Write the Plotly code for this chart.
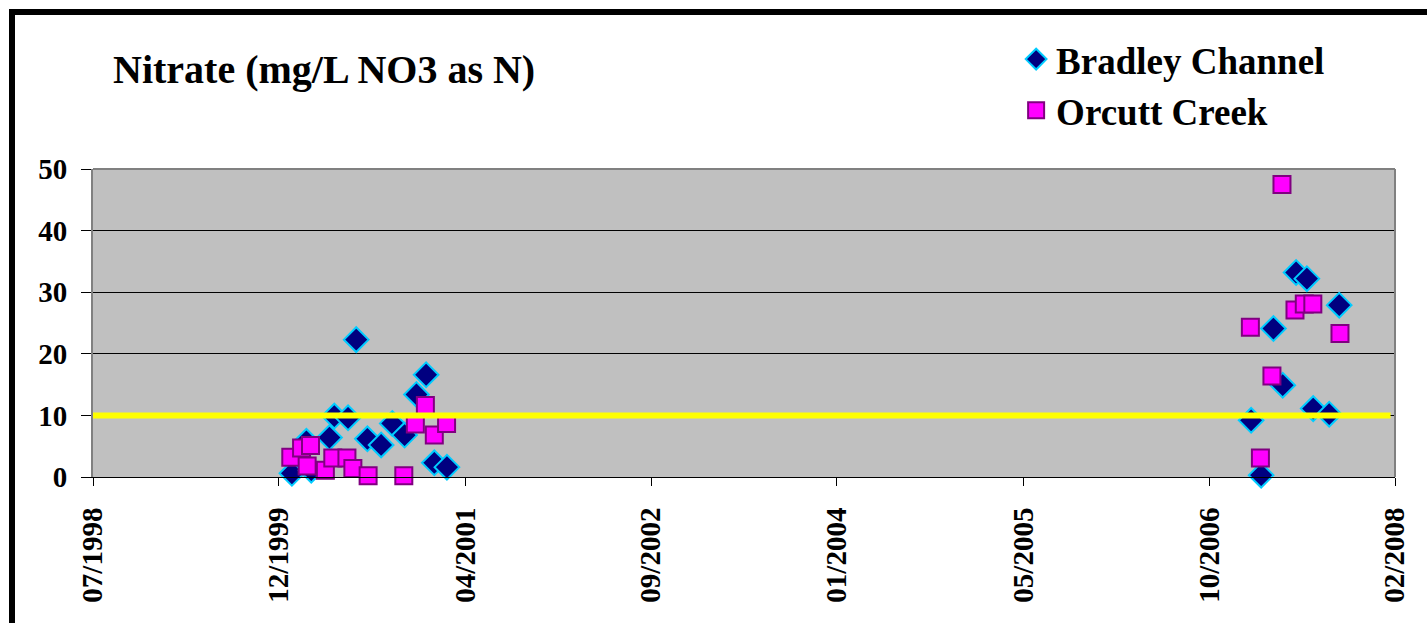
import plotly.graph_objects as go

# Nitrate sampling results (mg/L NO3 as N)
bradley_dates = [
    "2000-01-10", "2000-02-18", "2000-03-02", "2000-04-20", "2000-05-03",
    "2000-06-09", "2000-07-01", "2000-07-31", "2000-09-06", "2000-10-06",
    "2000-11-08", "2000-12-10", "2001-01-05", "2001-01-27", "2001-03-02",
    "2007-02-02", "2007-03-01", "2007-04-03", "2007-04-28", "2007-06-03",
    "2007-07-02", "2007-07-19", "2007-08-31", "2007-09-27",
]
bradley_values = [
    0.6, 5.8, 1.1, 6.4, 9.9,
    9.6, 22.3, 6.2, 5.2, 8.7,
    6.8, 13.4, 16.6, 2.3, 1.6,
    9.2, 0.3, 24.1, 14.9, 33.2,
    32.2, 11.1, 10.2, 27.9,
]

orcutt_dates = [
    "2000-01-07", "2000-02-05", "2000-02-20", "2000-02-29", "2000-04-09",
    "2000-04-29", "2000-06-06", "2000-06-22", "2000-08-02", "2000-11-06",
    "2000-12-07", "2001-01-03", "2001-01-27", "2001-03-01",
    "2007-01-31", "2007-02-27", "2007-03-30", "2007-04-26", "2007-05-31",
    "2007-06-25", "2007-07-18", "2007-09-29",
]
orcutt_values = [
    3.2, 4.7, 1.8, 5.1, 1.1,
    3.1, 3.1, 1.4, 0.2, 0.2,
    8.6, 11.6, 6.8, 8.7,
    24.3, 3.1, 16.4, 47.5, 27.1,
    28.1, 28.1, 23.3,
]

# 10 mg/L drinking-water standard
limit_dates = ["1998-07-24", "2008-02-12"]
limit_values = [10, 10]

x_range = ["1998-07-24", "2008-02-24"]
tick_dates = ["1998-07-24", "1999-12-06", "2001-04-20", "2002-09-02",
              "2004-01-15", "2005-05-30", "2006-10-12", "2008-02-24"]
tick_labels = ["07/1998", "12/1999", "04/2001", "09/2002",
               "01/2004", "05/2005", "10/2006", "02/2008"]

FONT = "Liberation Serif"

fig = go.Figure()

fig.add_trace(go.Scatter(
    x=bradley_dates, y=bradley_values, mode="markers", name="Bradley Channel",
    cliponaxis=False,
    marker=dict(symbol="diamond", size=19, color="#000080",
                line=dict(color="#00CCFF", width=2)),
))
fig.add_trace(go.Scatter(
    x=orcutt_dates, y=orcutt_values, mode="markers", name="Orcutt Creek",
    cliponaxis=False,
    marker=dict(symbol="square", size=17, color="#FF00FF",
                line=dict(color="#800080", width=2)),
))
fig.add_trace(go.Scatter(
    x=limit_dates, y=limit_values, mode="lines", showlegend=False,
    line=dict(color="#FFFF00", width=6), hoverinfo="skip",
))

fig.update_layout(
    width=1427, height=623,
    margin=dict(l=93, r=32, t=169, b=146, autoexpand=False),
    paper_bgcolor="white",
    plot_bgcolor="#C0C0C0",
    font=dict(family=FONT, color="black"),
    title=dict(
        text="Nitrate (mg/L NO3 as N)",
        font=dict(family=FONT, size=40, weight="bold", color="black"),
        x=113 / 1427, xanchor="left", xref="container",
        y=1 - 69 / 623, yanchor="middle", yref="container",
    ),
    legend=dict(
        x=0.709, xanchor="left", y=1.456, yanchor="top",
        font=dict(family=FONT, size=37, weight="bold", color="black"),
        bgcolor="rgba(0,0,0,0)", borderwidth=0,
        itemsizing="trace",
    ),
    showlegend=True,
)

fig.update_xaxes(
    type="date", range=x_range,
    tickmode="array", tickvals=tick_dates, ticktext=tick_labels,
    tickangle=-90,
    tickfont=dict(family=FONT, size=29, weight="bold", color="black"),
    ticks="outside", ticklen=8, tickcolor="black", tickwidth=1,
    ticklabelstandoff=10,
    showgrid=False, zeroline=False,
    showline=True, linecolor="black", linewidth=1,
    automargin=False,
)
fig.update_yaxes(
    range=[0, 50], tickmode="linear", tick0=0, dtick=10,
    tickfont=dict(family=FONT, size=29, weight="bold", color="black"),
    ticks="outside", ticklen=10, tickcolor="black", tickwidth=1,
    ticklabelstandoff=8,
    showgrid=True, gridcolor="black", gridwidth=1,
    zeroline=False,
    showline=True, linecolor="#808080", linewidth=2,
    automargin=False,
)

# grey plot-area border on the top and right sides
fig.add_shape(type="line", xref="paper", yref="paper", x0=0, x1=1, y0=1, y1=1,
              line=dict(color="#808080", width=2), layer="above")
fig.add_shape(type="line", xref="paper", yref="paper", x0=1, x1=1, y0=0, y1=1,
              line=dict(color="#808080", width=2), layer="above")

# heavy black frame around the chart
fig.add_shape(type="rect", xref="paper", yref="paper",
              x0=-81 / 1302, x1=1.05, y0=(477 - 12) / 308, y1=-0.6,
              line=dict(color="black", width=6), fillcolor="rgba(0,0,0,0)",
              layer="above")

fig.write_html("out.html")
